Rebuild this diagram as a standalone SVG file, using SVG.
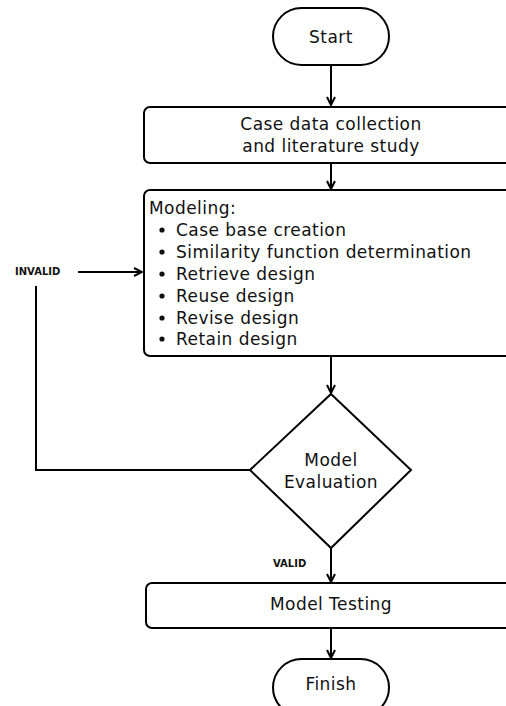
<svg xmlns="http://www.w3.org/2000/svg" width="506" height="706" viewBox="0 0 506 706">
<style>
.s{fill:#fff;stroke:#000;stroke-width:2}
.t{font-family:"DejaVu Sans",sans-serif;font-size:17px;letter-spacing:0.45px;fill:#111}
.c{text-anchor:middle}
.l{font-family:"DejaVu Sans",sans-serif;font-size:10px;font-weight:bold;fill:#111}
.e{fill:none;stroke:#000;stroke-width:2}
</style>
<defs>
<marker id="a" viewBox="0 0 10 10" refX="9" refY="5" markerWidth="5" markerHeight="5" orient="auto" markerUnits="strokeWidth">
<path d="M1,1 L9,5 L1,9" fill="none" stroke="#000" stroke-width="2"/>
</marker>
</defs>
<rect width="506" height="706" fill="#fff"/>
<g id="edges">
<line class="e" x1="331" y1="65" x2="331" y2="105" marker-end="url(#a)"/>
<line class="e" x1="331" y1="163" x2="331" y2="189" marker-end="url(#a)"/>
<line class="e" x1="331" y1="356" x2="331" y2="393" marker-end="url(#a)"/>
<polyline class="e" points="250,470 36,470 36,286"/>
<line class="e" x1="78" y1="272" x2="142" y2="272" marker-end="url(#a)"/>
<line class="e" x1="331" y1="548" x2="331" y2="582" marker-end="url(#a)"/>
<line class="e" x1="331" y1="628" x2="331" y2="658" marker-end="url(#a)"/>
<text class="l" x="15" y="275">INVALID</text>
<text class="l" x="273" y="567">VALID</text>
</g>
<g id="start">
<rect class="s" x="273" y="8" width="116" height="57" rx="28.5"/>
<text class="t c" x="331" y="43">Start</text>
</g>
<g id="collect">
<rect class="s" x="144" y="107" width="380" height="56" rx="6"/>
<text class="t c" x="331" y="130">Case data collection</text>
<text class="t c" x="331" y="152">and literature study</text>
</g>
<g id="modeling">
<rect class="s" x="144" y="190" width="380" height="166" rx="6"/>
<text class="t" x="149" y="214">Modeling:</text>
<g class="t">
<circle cx="162" cy="230" r="2.6"/><text x="176" y="236">Case base creation</text>
<circle cx="162" cy="252" r="2.6"/><text x="176" y="258">Similarity function determination</text>
<circle cx="162" cy="274" r="2.6"/><text x="176" y="280">Retrieve design</text>
<circle cx="162" cy="296" r="2.6"/><text x="176" y="302">Reuse design</text>
<circle cx="162" cy="318" r="2.6"/><text x="176" y="324">Revise design</text>
<circle cx="162" cy="339" r="2.6"/><text x="176" y="345">Retain design</text>
</g>
</g>
<g id="evaluation">
<polygon class="s" points="331,394 411,470 331,548 250,470"/>
<text class="t c" x="331" y="466">Model</text>
<text class="t c" x="331" y="488">Evaluation</text>
</g>
<g id="testing">
<rect class="s" x="146" y="583" width="380" height="45" rx="6"/>
<text class="t c" x="331" y="610">Model Testing</text>
</g>
<g id="finish">
<rect class="s" x="273" y="659" width="116" height="57" rx="28.5"/>
<text class="t c" x="331" y="690">Finish</text>
</g>
</svg>
